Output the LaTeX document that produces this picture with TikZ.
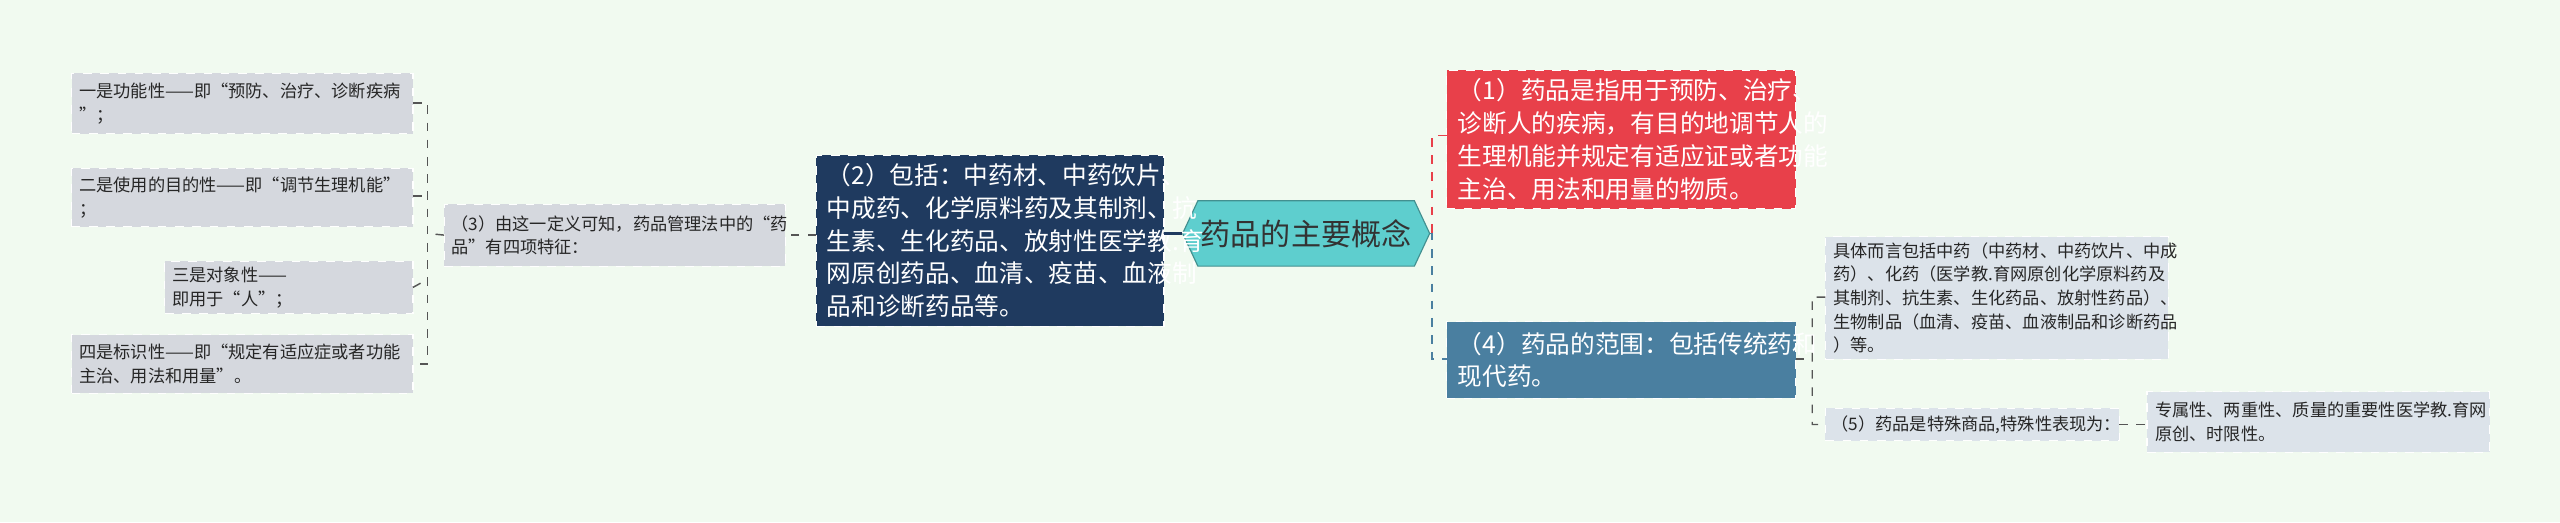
\documentclass[tikz,border=0pt]{standalone}
\usepackage{fontspec}
\setmainfont{Noto Sans CJK SC}
\usetikzlibrary{shapes.symbols}
\definecolor{bgc}{HTML}{F1FAF0}
\definecolor{rootc}{HTML}{5ECECE}
\definecolor{navyc}{HTML}{1F3A5F}
\definecolor{redc}{HTML}{E8404A}
\definecolor{steelc}{HTML}{4A7FA0}
\definecolor{greyc}{HTML}{D5D8DE}
\definecolor{paleblue}{HTML}{DCE3EA}
\definecolor{linec}{HTML}{555555}
\tikzset{
  box/.style={draw=white, dashed, align=left, anchor=north west, inner sep=2pt, outer sep=0pt},
  leaf/.style={box, fill=greyc, font=\fontsize{6}{8.2}\selectfont, text=black!85},
  bigbox/.style={box, fill=navyc, text=white, font=\fontsize{8.6}{11.4}\selectfont, inner sep=3pt},
  link/.style={dashed, linec, line width=0.5pt}
}
\begin{document}
\begin{tikzpicture}[x=0.02cm,y=-0.02cm]
\fill[bgc] (0,0) rectangle (1568,320);
\useasboundingbox (0,0) rectangle (1568,320);

% centre
\node (root) [signal, signal to=west and east, signal pointer angle=130, draw=rootc!70!black, fill=rootc,
  minimum width=2.66cm, minimum height=0.8cm, inner sep=1pt, font=\fontsize{10.5}{12}\selectfont, text=black!80] at (800,143) {药品的主要概念};

% left side
\node (incl) [bigbox, minimum width=4.26cm, minimum height=1.96cm, text width=4.0cm] at (500,95)
  {（2）包括：中药材、中药饮片、\\中成药、化学原料药及其制剂、抗\\生素、生化药品、放射性医学教.育\\网原创药品、血清、疫苗、血液制\\品和诊断药品等。};
\node (feat) [leaf, minimum width=4.18cm, minimum height=0.76cm, text width=4.0cm] at (272,125)
  {（3）由这一定义可知，药品管理法中的“药\\品”有四项特征：};
\node (f1) [leaf, minimum width=4.18cm, minimum height=0.74cm, text width=4.0cm] at (44,45)
  {一是功能性——即“预防、治疗、诊断疾病\\”；};
\node (f2) [leaf, minimum width=4.18cm, minimum height=0.72cm, text width=4.0cm] at (44,103)
  {二是使用的目的性——即“调节生理机能”\\；};
\node (f3) [leaf, minimum width=3.04cm, minimum height=0.44cm, text width=2.86cm] at (101,160)
  {三是对象性——即用于“人”；};
\node (f4) [leaf, minimum width=4.18cm, minimum height=0.72cm, text width=4.0cm] at (44,205)
  {四是标识性——即“规定有适应症或者功能\\主治、用法和用量”。};

% right side
\node (defn) [bigbox, fill=redc, minimum width=4.28cm, minimum height=1.62cm, text width=4.0cm] at (886,43)
  {（1）药品是指用于预防、治疗、\\诊断人的疾病，有目的地调节人的\\生理机能并规定有适应证或者功能\\主治、用法和用量的物质。};
\node (scope) [bigbox, fill=steelc, minimum width=4.28cm, minimum height=0.94cm, text width=4.0cm] at (886,197)
  {（4）药品的范围：包括传统药和\\现代药。};
\node (kind) [leaf, fill=paleblue, minimum width=4.2cm, minimum height=1.5cm, text width=4.0cm] at (1118,145)
  {具体而言包括中药（中药材、中药饮片、中成\\药）、化药（医学教.育网原创化学原料药及\\其制剂、抗生素、生化药品、放射性药品）、\\生物制品（血清、疫苗、血液制品和诊断药品\\）等。};
\node (spec) [leaf, fill=paleblue, minimum width=3.6cm, minimum height=0.4cm, text width=3.45cm] at (1118,250)
  {（5）药品是特殊商品,特殊性表现为：};
\node (prop) [leaf, fill=paleblue, minimum width=4.2cm, minimum height=0.74cm, text width=4.0cm] at (1315,240)
  {专属性、两重性、质量的重要性医学教.育网\\原创、时限性。};

% connectors
\draw[navyc, line width=0.8pt] (root.west) -- (incl.east |- root.west);
\draw[link] (incl.west |- feat.east) -- (feat.east);
\draw[link] (feat.west) -- (262,143);
\draw[link] (f1.east |- 0,63) -| (262,223) -- (f4.east |- 0,223);
\draw[link] (f2.east |- 0,120) -- (262,120);
\draw[link] (f3.east) -- (262,171);

\draw[dashed, redc, line width=0.5pt] (defn.west |- 0,83) -| (877,143);
\draw[dashed, steelc, line width=0.5pt] (root.east) -- (877,143) |- (scope.west |- 0,220);
\draw[link] (scope.east |- 0,220) -- (1110,220);
\draw[link] (kind.west |- 0,182) -| (1110,260) -- (spec.west);
\draw[link] (spec.east) -- (prop.west |- spec.east);
\end{tikzpicture}
\end{document}
